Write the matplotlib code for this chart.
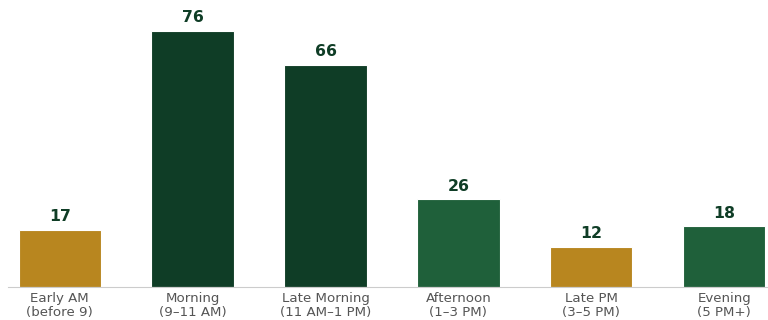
import matplotlib
matplotlib.use("Agg")
import matplotlib.pyplot as plt

plt.rcParams["font.family"] = ["DejaVu Sans"]

categories = ["Early AM\n(before 9)", "Morning\n(9–11 AM)", "Late Morning\n(11 AM–1 PM)",
              "Afternoon\n(1–3 PM)", "Late PM\n(3–5 PM)", "Evening\n(5 PM+)"]
values = [17, 76, 66, 26, 12, 18]
colors = ["#B8861F", "#0F3D26", "#0F3D26", "#1F603A", "#B8861F", "#1F603A"]

fig = plt.figure(figsize=(7.68, 3.2), dpi=100)
ax = fig.add_axes([8 / 768, 33 / 320, 760 / 768, 282 / 320])

x = range(len(values))
bars = ax.bar(x, values, width=0.62, color=colors, edgecolor="white", linewidth=0.8)

for b, v in zip(bars, values):
    ax.annotate(str(v), (b.get_x() + b.get_width() / 2, v), xytext=(0, 4),
                textcoords="offset points", ha="center", va="bottom",
                fontsize=11.3, fontweight="bold", color="#0F3D26")

ax.set_xlim(-0.39, 5.33)
ax.set_ylim(0, 83.7)
ax.set_xticks(list(x))
ax.set_xticklabels(categories, fontsize=9.6, color="#555555", linespacing=1.15)
ax.tick_params(axis="x", length=0, pad=3.5)
ax.set_yticks([])
for s in ["top", "right", "left"]:
    ax.spines[s].set_visible(False)
ax.spines["bottom"].set_color("#CCCCCC")
ax.spines["bottom"].set_linewidth(0.8)

fig.savefig("out.png", dpi=100)
